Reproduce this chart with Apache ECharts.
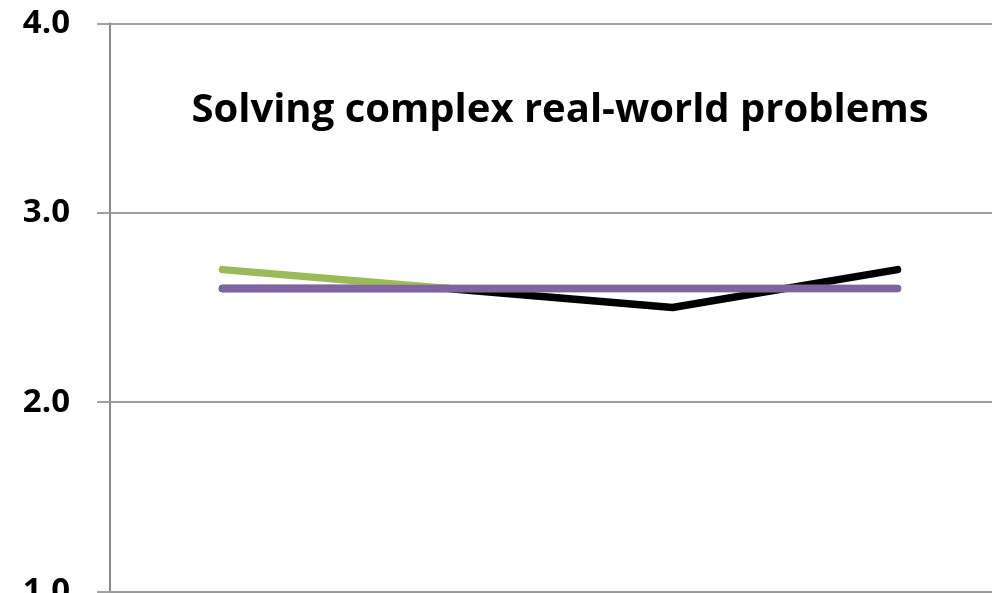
<!DOCTYPE html>
<html>
<head>
<meta charset="utf-8">
<script src="https://cdn.jsdelivr.net/npm/echarts@6/dist/echarts.min.js"></script>
<style>
  html, body { margin: 0; padding: 0; background: #fff; }
  #chart { width: 992px; height: 593px; }
</style>
</head>
<body>
<div id="chart"></div>
<script>
// four survey points, labels not shown in the crop
const categories = ["A", "B", "C", "D"];
const blackSeries = [2.6, 2.6, 2.5, 2.7];
const greenSeries = [2.7, 2.6, 2.6, 2.6];
const purpleSeries = [2.6, 2.6, 2.6, 2.6];
const yTicks = [1, 2, 3, 4];

const chart = echarts.init(document.getElementById("chart"));

const lineStyle = (color) => ({ width: 7.5, color: color, cap: "round", join: "round" });

const option = {
  animation: false,
  title: {
    text: "Solving complex real-world problems",
    left: 555,
    top: 86,
    textAlign: "center",
    textStyle: {
      fontFamily: "Open Sans",
      fontWeight: "bold",
      fontSize: 40,
      color: "#000",
    },
  },
  grid: { left: 110, right: -18, top: 23.5, bottom: 1.5, outerBoundsMode: "none", containLabel: false },
  xAxis: {
    type: "category",
    data: categories,
    boundaryGap: true,
    axisLine: { lineStyle: { color: "#999", width: 2 } },
    axisTick: { show: false },
    axisLabel: { show: false },
  },
  yAxis: {
    type: "value",
    min: yTicks[0],
    max: yTicks[yTicks.length - 1],
    interval: 1,
    axisLine: { show: true, lineStyle: { color: "#888", width: 2 } },
    axisTick: { show: true, length: 13, lineStyle: { color: "#a0a0a0", width: 2 } },
    splitLine: { lineStyle: { color: "#a0a0a0", width: 2 } },
    axisLabel: {
      margin: 40,
      fontFamily: "Open Sans",
      fontWeight: "bold",
      fontSize: 33,
      color: "#000",
      formatter: (v) => v.toFixed(1),
    },
  },
  series: [
    { name: "black", type: "line", data: blackSeries, symbol: "none", lineStyle: lineStyle("#000000"), z: 2 },
    { name: "green", type: "line", data: greenSeries, symbol: "none", lineStyle: lineStyle("#9bbb59"), z: 3 },
    { name: "purple", type: "line", data: purpleSeries, symbol: "none", lineStyle: lineStyle("#8064a2"), z: 4 },
  ],
};

chart.setOption(option);
</script>
</body>
</html>
